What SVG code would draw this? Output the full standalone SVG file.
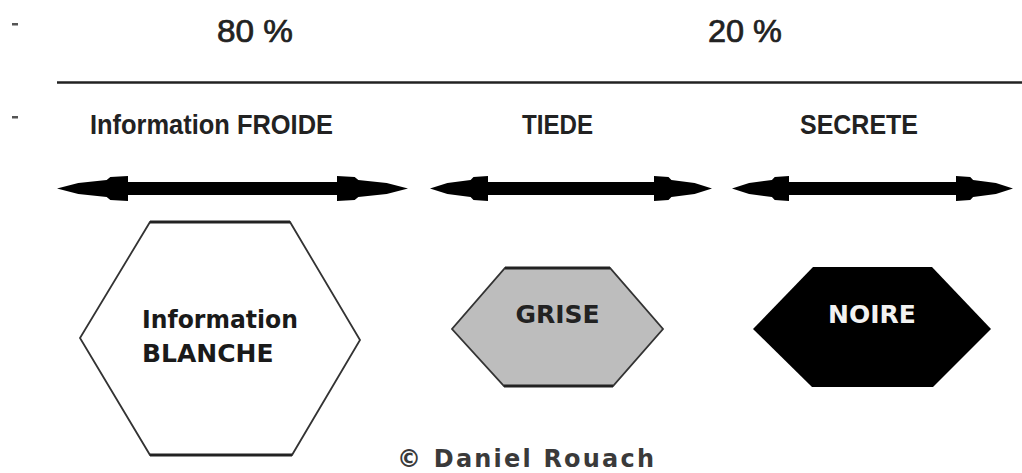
<svg xmlns="http://www.w3.org/2000/svg" width="1022" height="473" viewBox="0 0 1022 473">
  <style>
    .pct { font-family: "Liberation Sans", Arial, sans-serif; font-size: 31px; fill: #222; stroke: #222; stroke-width: 0.7; }
    .head { font-family: "Liberation Sans", Arial, sans-serif; font-size: 28px; font-weight: bold; fill: #222; }
    .lbl { font-family: "DejaVu Sans", Verdana, sans-serif; font-size: 25px; font-weight: bold; }
    .credit { font-family: "DejaVu Sans", Verdana, sans-serif; font-size: 24px; font-weight: bold; fill: #3a3a3a; letter-spacing: 2.2px; }
    .arrow { fill: #000; }
    .edge { stroke: #333; stroke-width: 1.8; stroke-linejoin: miter; }
    .rim { stroke: #222; stroke-width: 3.2; }
  </style>

  <rect width="1022" height="473" fill="#fff"/>

  <!-- row markers -->
  <rect x="12" y="23" width="6" height="2.5" fill="#555"/>
  <rect x="12" y="116" width="6" height="2.5" fill="#555"/>

  <!-- percentages -->
  <text class="pct" x="217" y="42" textLength="76" lengthAdjust="spacingAndGlyphs">80 %</text>
  <text class="pct" x="708" y="42" textLength="74" lengthAdjust="spacingAndGlyphs">20 %</text>

  <!-- divider -->
  <line x1="57" y1="82.5" x2="1022" y2="82.5" stroke="#222" stroke-width="2.4"/>

  <!-- column headings -->
  <text class="head" x="90" y="134" textLength="243" lengthAdjust="spacingAndGlyphs">Information FROIDE</text>
  <text class="head" x="522" y="134" textLength="71" lengthAdjust="spacingAndGlyphs">TIEDE</text>
  <text class="head" x="800" y="134" textLength="118" lengthAdjust="spacingAndGlyphs">SECRETE</text>

  <!-- double-headed range arrows -->
  <g id="connectors">
    <path class="arrow" d="M57,188.5 L78.3,183 L106.7,180 L110.3,177 L128,176 L128,182 L337,182 L337,176 L354.7,177 L358.3,180 L386.7,183 L408,188.5 L386.7,194 L358.3,197 L354.7,200 L337,201 L337,195 L128,195 L128,201 L110.3,200 L106.7,197 L78.3,194 Z"/>
    <path class="arrow" d="M430,188.5 L447.4,183 L470.6,180 L473.5,177 L488,176 L488,182 L654,182 L654,176 L668.5,177 L671.4,180 L694.6,183 L712,188.5 L694.6,194 L671.4,197 L668.5,200 L654,201 L654,195 L488,195 L488,201 L473.5,200 L470.6,197 L447.4,194 Z"/>
    <path class="arrow" d="M732,188.5 L749.1,183 L771.9,180 L774.75,177 L789,176 L789,182 L956,182 L956,176 L970.25,177 L973.1,180 L995.9,183 L1013,188.5 L995.9,194 L973.1,197 L970.25,200 L956,201 L956,195 L789,195 L789,201 L774.75,200 L771.9,197 L749.1,194 Z"/>
  </g>

  <!-- white information -->
  <g id="node-blanche">
    <polygon class="edge" points="150,222 290,222 360,340 292,455 150,455 80,338" fill="#fff"/>
    <line class="rim" x1="150" y1="222" x2="290" y2="222"/>
    <line class="rim" x1="150" y1="455" x2="292" y2="455"/>
    <text class="lbl" x="142" y="328" fill="#1a1a1a" textLength="156" lengthAdjust="spacingAndGlyphs">Information</text>
    <text class="lbl" x="142" y="362" fill="#1a1a1a">BLANCHE</text>
  </g>

  <!-- grey information -->
  <g id="node-grise">
    <polygon class="edge" points="505,268 610,268 663,329 613,386 504,386 452,329" fill="#bdbdbd" stroke-width="2"/>
    <line class="rim" x1="505" y1="268" x2="610" y2="268"/>
    <line class="rim" x1="504" y1="386" x2="613" y2="386"/>
    <text class="lbl" x="557.5" y="323" fill="#222" text-anchor="middle">GRISE</text>
  </g>

  <!-- black information -->
  <g id="node-noire">
    <polygon points="813,267 932,267 991,329 933,387 812,387 753,329" fill="#000"/>
    <text class="lbl" x="872" y="323" fill="#f2f2f2" text-anchor="middle">NOIRE</text>
  </g>

  <text class="credit" x="397" y="467">© Daniel Rouach</text>
</svg>
